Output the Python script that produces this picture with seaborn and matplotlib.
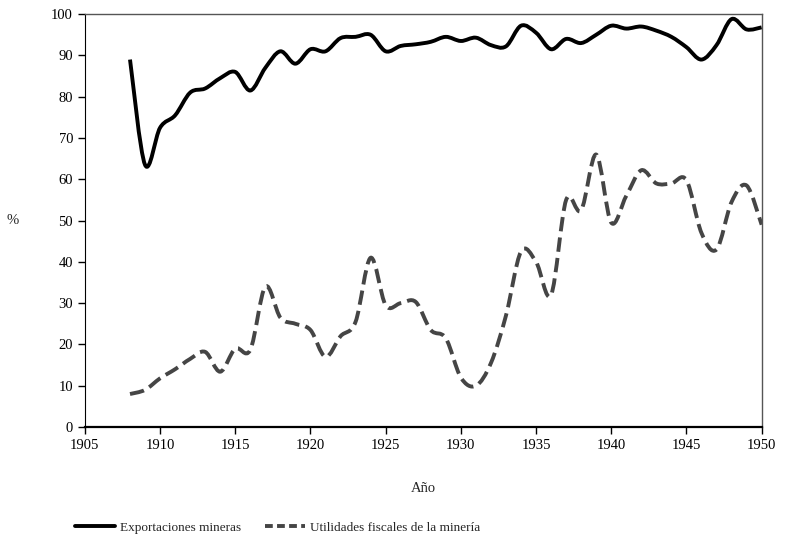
import numpy as np
import pandas as pd
import seaborn as sns
import matplotlib
matplotlib.use('Agg')
import matplotlib.pyplot as plt
from matplotlib.path import Path
from matplotlib.patches import PathPatch

years = list(range(1908, 1951))
exportaciones = [89, 63.5, 72.5, 75.5, 81, 82, 84.5, 86, 81.5, 87,
                 91, 88, 91.5, 91, 94.2, 94.5, 95, 91, 92.3, 92.7,
                 93.3, 94.5, 93.5, 94.3, 92.5, 92.2, 97.2, 95.5, 91.5, 94,
                 93, 95, 97.2, 96.5, 97, 96, 94.5, 92, 89, 92.5,
                 98.8, 96.3, 96.8]
utilidades = [8, 9, 11.8, 14, 16.5, 18.2, 13.4, 19, 18.7, 34,
              26.5, 25, 23.5, 17, 22, 25.5, 41, 29.5, 30, 30.3,
              23.5, 21.5, 12, 10, 15.5, 27, 42.5, 40, 32, 55,
              52.5, 66, 49.5, 56, 62.2, 59, 59, 59.8, 47, 43,
              54.5, 58.5, 49]

s1 = 'Exportaciones mineras'
s2 = 'Utilidades fiscales de la minería'

df = pd.DataFrame({'Año': years, s1: exportaciones, s2: utilidades})

sns.set_style('ticks')
plt.rcParams['font.family'] = ['Liberation Serif', 'DejaVu Serif']

fig, ax = plt.subplots(figsize=(7.86, 5.44), dpi=100)
fig.subplots_adjust(left=0.108, right=0.969, top=0.974, bottom=0.215)

sns.lineplot(data=df, x='Año', y=s1, ax=ax, color='black', linewidth=2.8, label=s1)
sns.lineplot(data=df, x='Año', y=s2, ax=ax, color='#454545', linewidth=2.8,
             linestyle=(0, (2.0, 1.1)), label=s2)


def smooth(line):
    # Excel-style smoothed line: cubic bezier through every data point
    xy = line.get_xydata()
    n = len(xy)
    verts = [xy[0]]
    codes = [Path.MOVETO]
    for i in range(n - 1):
        p0 = xy[max(i - 1, 0)]
        p1 = xy[i]
        p2 = xy[i + 1]
        p3 = xy[min(i + 2, n - 1)]
        verts += [p1 + (p2 - p0) / 6, p2 - (p3 - p1) / 6, p2]
        codes += [Path.CURVE4] * 3
    patch = PathPatch(Path(verts, codes), fill=False, edgecolor=line.get_color(),
                      linewidth=line.get_linewidth(), linestyle=line.get_linestyle(),
                      capstyle='butt', joinstyle='round')
    ax.add_patch(patch)


leg = ax.legend(loc='upper center', bbox_to_anchor=(0.285, -0.2), ncol=2,
                frameon=False, fontsize=9.5, handlelength=3.0, handletextpad=0.4,
                columnspacing=1.8)
for line in ax.get_lines()[:2]:
    smooth(line)
    line.set_visible(False)

ax.set_xlim(1905, 1950)
ax.set_ylim(0, 100)
ax.set_xticks(range(1905, 1951, 5))
ax.set_yticks(range(0, 101, 10))
ax.tick_params(labelsize=10.5, length=5, width=1, colors='black')
ax.set_xlabel('Año', fontsize=10.5, labelpad=22)
ax.set_ylabel('%', fontsize=10.5, rotation=0, labelpad=28, va='center')

for side in ['top', 'right']:
    ax.spines[side].set_visible(True)
    ax.spines[side].set_color('#555555')
    ax.spines[side].set_linewidth(1)
ax.spines['left'].set_color('black')
ax.spines['bottom'].set_color('black')
ax.spines['bottom'].set_linewidth(1.6)

plt.savefig('out.png', dpi=100)
